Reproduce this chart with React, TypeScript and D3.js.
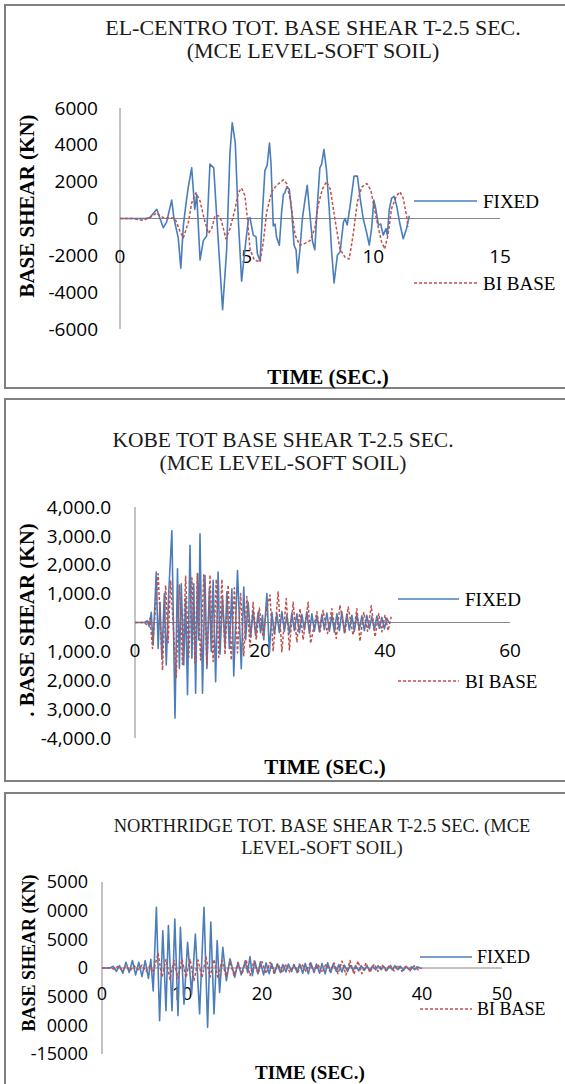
import React from 'react';
import * as d3 from 'd3';

// ---------------- DATA ----------------
// EL-CENTRO (time in sec, base shear in kN)
const elFixedT = [0, 0.5, 1.0, 1.18, 1.45, 1.71, 1.84, 2.04, 2.13, 2.3, 2.4, 2.5, 2.6, 2.7, 2.83, 2.95, 3.03, 3.16, 3.29, 3.42, 3.55, 3.7, 3.8, 4.05, 4.21, 4.34, 4.43, 4.55, 4.67, 4.8, 4.93, 5.07, 5.13, 5.26, 5.37, 5.42, 5.53, 5.63, 5.72, 5.81, 5.9, 5.96, 6.05, 6.12, 6.18, 6.29, 6.38, 6.45, 6.51, 6.58, 6.68, 6.78, 6.87, 6.95, 7.01, 7.1, 7.2, 7.3, 7.39, 7.5, 7.6, 7.69, 7.78, 7.89, 7.96, 8.05, 8.15, 8.26, 8.35, 8.45, 8.58, 8.69, 8.82, 8.88, 8.97, 9.08, 9.24, 9.37, 9.5, 9.6, 9.74, 9.84, 9.93, 10.02, 10.1, 10.2, 10.29, 10.39, 10.5, 10.55, 10.63, 10.72, 10.82, 10.92, 11.05, 11.18, 11.31, 11.42];
const elFixedV = [0, 0, 0, 50, 500, -500, -200, 1000, 0, -1050, -2700, -400, 750, 1750, 2750, 500, 1300, -2250, -1200, -950, 2950, 2750, 500, -4950, -1700, 3550, 5200, 4100, -50, -3400, -1700, 0, 50, -900, -1000, -1900, -2300, 500, 2600, 2900, 4100, 3000, -400, -300, -1000, -1450, 350, 1300, 1400, 1700, 1600, 350, -1450, -1700, -2950, -1700, 0, 1000, 1800, 150, -1250, -1700, 500, 2750, 2950, 3750, 2650, 500, -1700, -3500, -2000, -1800, -200, 0, -350, 650, 2300, 2300, 900, 0, -800, -1450, -550, 1000, 500, -350, -300, -900, -550, -900, 500, 1100, 1200, 700, -300, -1100, -550, 150];
const elBaseT = [0, 0.5, 0.9, 1.18, 1.45, 1.58, 1.78, 1.97, 2.17, 2.37, 2.5, 2.7, 2.83, 3.0, 3.16, 3.32, 3.49, 3.62, 3.75, 3.88, 4.0, 4.18, 4.34, 4.54, 4.67, 4.8, 4.93, 5.03, 5.13, 5.3, 5.53, 5.66, 5.79, 5.99, 6.18, 6.45, 6.58, 6.74, 6.91, 7.1, 7.3, 7.5, 7.69, 7.82, 7.99, 8.15, 8.3, 8.48, 8.68, 8.88, 9.05, 9.2, 9.37, 9.54, 9.74, 9.9, 10.02, 10.15, 10.32, 10.45, 10.58, 10.72, 10.92, 11.05, 11.18, 11.31, 11.37];
const elBaseV = [0, 0, -100, 50, 300, 150, 0, 50, 0, -700, -1050, -200, 850, 1400, 950, 0, -800, -550, 150, 150, -100, -1100, -550, 500, 1400, 1650, 1250, 0, -1650, -2250, -2350, -1250, 350, 1450, 1800, 2100, 1900, 900, -900, -1450, -1350, -1200, -550, 700, 1600, 2000, 1600, 0, -1650, -2100, -2200, -900, 900, 1700, 1900, 1550, 700, -200, -1250, -1650, -900, 550, 1250, 1450, 1100, 150, -450];

// KOBE
const kobeFixedT = [0, 1.5, 2.0, 2.3, 2.6, 2.9, 3.4, 3.7, 4.0, 4.3, 4.7, 5.0, 5.4, 5.9, 6.4, 6.8, 7.1, 7.4, 7.8, 8.1, 8.4, 8.8, 9.1, 9.4, 9.7, 10.0, 10.2, 10.4, 10.8, 11.2, 11.5, 11.9, 12.2, 12.5, 12.9, 13.3, 13.6, 14.0, 14.4, 14.7, 15.1, 15.5, 15.8, 16.4, 17.0, 17.4, 17.7, 18.1, 18.5, 18.9, 19.3, 19.7, 20.1, 20.4, 20.6, 21.1, 21.5, 21.9, 22.3, 22.7, 23.1, 23.5, 23.9, 24.3, 24.7, 25.1, 25.5, 25.9, 26.3, 26.7, 27.1, 27.5, 27.9, 28.3, 28.7, 29.1, 29.5, 29.9, 30.3, 30.7, 31.1, 31.5, 31.9, 32.3, 32.7, 33.1, 33.5, 33.9, 34.3, 34.7, 35.1, 35.5, 35.9, 36.3, 36.7, 37.1, 37.5, 37.9, 38.3, 38.7, 39.1, 39.5, 39.9, 40.3, 40.6];
const kobeFixedV = [0, 0, 60, -150, 350, -780, 1750, -900, 700, -1240, 1000, -1470, 1050, 3180, -3310, 1860, -1590, 1340, -1470, 830, -2500, 2670, -1240, 1340, -2450, 1690, -600, 3070, -2450, 1630, -1590, 1170, -1010, 1460, -2050, 1750, -1100, 880, -800, 1060, -900, 1170, -1850, 1800, -1600, 1230, -600, 700, -500, 400, -450, 350, -350, 250, -600, 1000, -1050, 350, -400, 300, -350, 380, -300, 250, -380, 330, -280, 300, -350, 280, -250, 370, -380, 300, -300, 250, -320, 280, -250, 330, -300, 260, -330, 300, -280, 370, -350, 300, -260, 250, -300, 280, -250, 230, -280, 250, -220, 200, -250, 220, -200, 180, -220, 150, 0];
const kobeBaseT = [0, 1.5, 2.0, 2.4, 2.8, 3.7, 4.4, 4.9, 5.3, 5.7, 6.6, 7.1, 7.6, 8.1, 8.6, 9.1, 9.6, 10.0, 10.5, 11.0, 11.5, 12.0, 12.5, 13.0, 13.4, 13.9, 14.4, 14.9, 15.4, 15.9, 16.4, 16.9, 17.4, 17.9, 18.4, 18.9, 19.4, 19.9, 20.5, 21.0, 21.6, 22.1, 22.9, 23.5, 24.2, 24.7, 25.3, 25.9, 26.4, 26.9, 27.7, 28.1, 29.1, 29.6, 30.1, 30.8, 31.5, 32.2, 32.8, 33.6, 34.1, 34.9, 35.5, 36.0, 36.6, 37.2, 37.8, 38.4, 39.0, 39.5, 40.0, 40.5, 41.0];
const kobeBaseV = [0, 0, -100, 150, -900, 1690, -1650, 1290, -700, 1460, -1900, 1300, -1450, 1600, -1200, 1550, -1400, 1700, -1300, 1650, -1500, 1650, -1350, 1500, -1200, 1500, -1100, 1300, -1300, 1200, -1050, 1000, -1150, 900, -900, 700, -600, 500, -500, 400, 950, -1000, 1060, -1010, 830, -950, 700, -670, 480, -600, 700, -720, 370, -320, 420, -380, 480, -550, 600, -380, 540, -440, 480, -650, 350, -300, 580, -500, 310, -320, 250, -280, 200];

// NORTHRIDGE
const nrFixedT = [0, 1.0, 1.4, 1.8, 2.2, 2.6, 3.0, 3.4, 3.8, 4.2, 4.6, 5.0, 5.4, 5.8, 6.1, 6.4, 6.8, 7.2, 7.6, 8.0, 8.3, 8.75, 9.1, 9.5, 9.8, 10.25, 10.7, 11.2, 11.67, 12.2, 12.75, 13.2, 13.6, 14.0, 14.4, 14.7, 15.1, 15.55, 16.0, 16.6, 17.0, 17.4, 17.9, 18.2, 18.5, 18.8, 19.1, 19.5, 19.8, 20.2, 20.5, 20.9, 21.2, 21.6, 21.9, 22.3, 22.6, 23.0, 23.3, 23.7, 24.0, 24.4, 24.7, 25.1, 25.4, 25.8, 26.1, 26.5, 26.8, 27.2, 27.5, 27.9, 28.2, 28.6, 28.9, 29.3, 29.6, 30.0, 30.3, 30.7, 31.0, 31.4, 31.7, 32.1, 32.4, 32.8, 33.1, 33.5, 33.8, 34.2, 34.5, 34.9, 35.2, 35.6, 35.9, 36.3, 36.6, 37.0, 37.3, 37.7, 38.0, 38.4, 38.7, 39.1, 39.4, 39.8];
const nrFixedV = [0, 0, 300, -600, 400, -900, 1000, -800, 1300, -1200, 1000, -1500, 1300, -1800, 1500, -4000, 10600, -9200, 6500, -7450, 7400, -7450, 8550, -8300, 7100, -6300, 4500, -4550, 5900, -8000, 10600, -10350, 8000, -8000, 4800, -4250, 3600, -2200, 1600, -1600, 1000, -1200, 1200, -800, 2000, -1350, 1200, -1000, 1100, -1200, 900, -1000, 800, -900, 700, -800, 600, -700, 700, -600, 600, -800, 700, -900, 800, -1000, 900, -800, 700, -900, 800, -1000, 900, -800, 700, -600, 600, -700, 500, -600, 500, -400, 400, -500, 400, -400, 300, -400, 300, -300, 400, -300, 300, -400, 300, -300, 400, -300, 300, -400, 300, -300, 200, -300, 200, 0];
const nrBaseT = [0, 1.0, 1.5, 2.0, 2.5, 3.0, 3.5, 4.0, 4.5, 5.0, 5.5, 6.0, 6.4, 7.0, 7.5, 8.0, 8.5, 9.0, 9.5, 10.0, 10.5, 11.0, 11.5, 12.0, 12.5, 13.0, 13.5, 14.0, 14.5, 15.0, 15.5, 16.0, 16.5, 17.0, 17.5, 18.0, 18.5, 19.0, 19.5, 20.0, 20.5, 21.0, 21.5, 22.0, 22.5, 23.0, 23.5, 24.0, 24.5, 25.0, 25.5, 26.0, 26.5, 27.0, 27.5, 28.0, 28.5, 29.0, 29.5, 30.0, 30.5, 31.0, 31.5, 32.0, 32.5, 33.0, 33.5, 34.0, 34.5, 35.0, 35.5, 36.0, 36.5, 37.0, 37.5, 38.0, 38.5, 39.0, 39.5, 40.0];
const nrBaseV = [0, 0, -200, 300, -400, 300, -500, 400, -300, 500, -600, 400, -800, 2600, -1600, 1500, -2000, 1300, -1800, 1500, -1700, 1600, -2200, 1400, -1700, 1900, -1600, 1500, -1800, 1300, -1500, 1100, -1300, 900, -1100, 1500, -1300, 1200, -1000, 1100, -1000, 1000, -900, 800, -900, 700, -800, 600, -700, 700, -600, 800, -700, 600, -800, 700, -600, 900, -1000, 1200, -1200, 1300, -1100, 1200, -1000, 900, -800, 700, -600, 600, -500, 600, -500, 500, -600, 400, -500, 400, -300, 0];

// Axis ticks and labels
const elYTicks = [6000, 4000, 2000, 0, -2000, -4000, -6000];
const elYLabels = ['6000', '4000', '2000', '0', '-2000', '-4000', '-6000'];
const elXTicks = [0, 5, 10, 15];
const kobeYTicks = [4000, 3000, 2000, 1000, 0, -1000, -2000, -3000, -4000];
const kobeYLabels = ['4,000.0', '3,000.0', '2,000.0', '1,000.0', '0.0', '1,000.0', '2,000.0', '3,000.0', '-4,000.0'];
const kobeXTicks = [0, 20, 40, 60];
const nrYTicks = [15000, 10000, 5000, 0, -5000, -10000, -15000];
const nrYLabels = ['5000', '0000', '5000', '0', '5000', '0000', '-15000'];
const nrXTicks = [0, 10, 20, 30, 40, 50];

const seriesNames = ['FIXED', 'BI BASE'];

// ---------------- STYLE / LAYOUT ----------------
const BLUE = '#4a7ebb';
const RED = '#c0504d';
const AXIS = '#868686';
const SERIF = '"Liberation Serif", "Times New Roman", serif';
const SANS = '"Open Sans", "Noto Sans", sans-serif';

const panels = [
  {
    top: 5, bottom: 388,
    title: ['EL-CENTRO TOT. BASE SHEAR T-2.5 SEC.', '(MCE LEVEL-SOFT SOIL)'], titleX: 313, titleY: [35, 58], titleSize: 22,
    xDomain: [0, 15], xRange: [120, 500], yDomain: [-6000, 6000], yRange: [329, 108],
    xTicks: elXTicks, yTicks: elYTicks, yLabels: elYLabels, tickSize: 19, yLabelX: 98, xLabelY: 256,
    yTitle: 'BASE SHEAR (KN)', yTitleX: 34, yTitleY: 206, yTitleSize: 21,
    xTitle: 'TIME (SEC.)', xTitleX: 328, xTitleY: 384, xTitleSize: 21,
    legX1: 414, legX2: 477, legTextX: 483, legY: [201, 283], legSize: 19,
    fixed: [elFixedT, elFixedV], base: [elBaseT, elBaseV],
  },
  {
    top: 399, bottom: 781,
    title: ['KOBE TOT BASE SHEAR T-2.5 SEC.', '(MCE LEVEL-SOFT SOIL)'], titleX: 283, titleY: [447, 470], titleSize: 21.5,
    xDomain: [0, 60], xRange: [135, 510], yDomain: [-4000, 4000], yRange: [738, 507],
    xTicks: kobeXTicks, yTicks: kobeYTicks, yLabels: kobeYLabels, tickSize: 19, yLabelX: 111, xLabelY: 650,
    yTitle: '. BASE SHEAR (KN)', yTitleX: 34, yTitleY: 620, yTitleSize: 21,
    xTitle: 'TIME (SEC.)', xTitleX: 325, xTitleY: 774, xTitleSize: 21,
    legX1: 398, legX2: 459, legTextX: 465, legY: [599, 681], legSize: 19,
    fixed: [kobeFixedT, kobeFixedV], base: [kobeBaseT, kobeBaseV],
  },
  {
    top: 793, bottom: 1100,
    title: ['NORTHRIDGE TOT. BASE SHEAR T-2.5 SEC. (MCE', 'LEVEL-SOFT SOIL)'], titleX: 322, titleY: [832, 854], titleSize: 18.5,
    xDomain: [0, 50], xRange: [102, 502], yDomain: [-15000, 15000], yRange: [1054, 882],
    xTicks: nrXTicks, yTicks: nrYTicks, yLabels: nrYLabels, tickSize: 18, yLabelX: 88, xLabelY: 994,
    yTitle: 'BASE SHEAR (KN)', yTitleX: 35, yTitleY: 953, yTitleSize: 18,
    xTitle: 'TIME (SEC.)', xTitleX: 310, xTitleY: 1079, xTitleSize: 19,
    legX1: 420, legX2: 472, legTextX: 477, legY: [957, 1009], legSize: 18,
    fixed: [nrFixedT, nrFixedV], base: [nrBaseT, nrBaseV],
  },
];

function Panel({ p }: { p: any }) {
  const x = d3.scaleLinear().domain(p.xDomain).range(p.xRange);
  const y = d3.scaleLinear().domain(p.yDomain).range(p.yRange);
  const mk = (ts: number[], vs: number[]) =>
    d3.line<number>().x((_, i) => x(ts[i])).y((v) => y(v))(vs) || '';
  return (
    <g>
      <rect x={5} y={p.top} width={600} height={p.bottom - p.top} fill="#fff" stroke="#808080" strokeWidth={2} />
      {p.title.map((s: string, i: number) => (
        <text key={i} x={p.titleX} y={p.titleY[i]} textAnchor="middle" fontFamily={SERIF} fontSize={p.titleSize} fill="#1a1a1a">{s}</text>
      ))}
      {/* axes */}
      <line x1={x(p.xDomain[0])} x2={x(p.xDomain[0])} y1={y(p.yDomain[1])} y2={y(p.yDomain[0])} stroke={AXIS} strokeWidth={1} />
      <line x1={x(p.xDomain[0])} x2={x(p.xDomain[1])} y1={y(0)} y2={y(0)} stroke={AXIS} strokeWidth={1} />
      {p.yTicks.map((t: number, i: number) => (
        <text key={'y' + i} x={p.yLabelX} y={y(t)} dy="0.35em" textAnchor="end" fontFamily={SANS} fontSize={p.tickSize} fill="#000">{p.yLabels[i]}</text>
      ))}
      {p.xTicks.map((t: number, i: number) => (
        <text key={'x' + i} x={x(t)} y={p.xLabelY} dy="0.35em" textAnchor="middle" fontFamily={SANS} fontSize={p.tickSize} fill="#000">{String(t)}</text>
      ))}
      {/* series */}
      <path d={mk(p.fixed[0], p.fixed[1])} fill="none" stroke={BLUE} strokeWidth={1.6} strokeLinejoin="round" />
      <path d={mk(p.base[0], p.base[1])} fill="none" stroke={RED} strokeWidth={1.5} strokeDasharray="3 2" strokeLinejoin="round" />
      {/* axis titles */}
      <text transform={`translate(${p.yTitleX},${p.yTitleY}) rotate(-90)`} textAnchor="middle" fontFamily={SERIF} fontWeight="bold" fontSize={p.yTitleSize} fill="#000">{p.yTitle}</text>
      <text x={p.xTitleX} y={p.xTitleY} textAnchor="middle" fontFamily={SERIF} fontWeight="bold" fontSize={p.xTitleSize} fill="#000">{p.xTitle}</text>
      {/* legend */}
      <line x1={p.legX1} x2={p.legX2} y1={p.legY[0]} y2={p.legY[0]} stroke={BLUE} strokeWidth={1.6} />
      <text x={p.legTextX} y={p.legY[0]} dy="0.35em" fontFamily={SERIF} fontSize={p.legSize} fill="#000">{seriesNames[0]}</text>
      <line x1={p.legX1} x2={p.legX2} y1={p.legY[1]} y2={p.legY[1]} stroke={RED} strokeWidth={1.5} strokeDasharray="3 2" />
      <text x={p.legTextX} y={p.legY[1]} dy="0.35em" fontFamily={SERIF} fontSize={p.legSize} fill="#000">{seriesNames[1]}</text>
    </g>
  );
}

export default function App() {
  return (
    <svg width={565} height={1084} style={{ position: 'absolute', left: 0, top: 0, background: '#fff' }}>
      {panels.map((p, i) => <Panel key={i} p={p} />)}
    </svg>
  );
}
